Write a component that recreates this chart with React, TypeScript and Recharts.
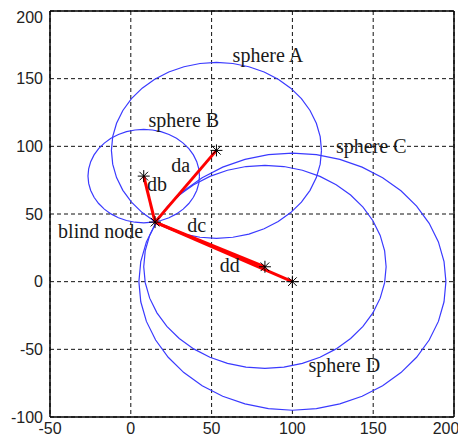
import { ScatterChart, Scatter, XAxis, YAxis, CartesianGrid, ReferenceLine } from 'recharts';

const X_TICKS = [-50, 0, 50, 100, 150, 200];
const Y_TICKS = [-100, -50, 0, 50, 100, 150, 200];

// blind node estimated position
const BLIND_NODE = { x: 15, y: 44 };

// sphere centres (anchor nodes) and radii
const SPHERE_NAMES = ['A', 'B', 'C', 'D'];
const CENTER_X = [53, 8, 83, 100];
const CENTER_Y = [97, 78, 11, 0];
const RADII = [65, 34.5, 75, 95];

// text annotations
const LABEL_TEXT = ['sphere A', 'sphere B', 'sphere C', 'sphere D', 'da', 'db', 'dc', 'dd', 'blind node'];
const LABEL_X = [63, 11, 127, 110, 25, 10, 35, 55, -45];
const LABEL_Y = [162, 114, 95, -67, 81, 67, 37, 7, 32];

const BLUE = '#3a3aff';
const RED = '#ff0000';

// outline of a circle from centre + radius (MATLAB-ish polygon)
const circlePts = (cx: number, cy: number, r: number, n = 40) => {
    const pts = [];
    for (let i = 0; i <= n; i++) {
        const a = (i / n) * Math.PI * 2;
        pts.push({ x: cx + r * Math.cos(a), y: cy + r * Math.sin(a) });
    }
    return pts;
};

const centers = SPHERE_NAMES.map((name, i) => ({ name, x: CENTER_X[i], y: CENTER_Y[i] }));
const markers = [...centers, { name: 'node', ...BLIND_NODE }];
const labels = LABEL_TEXT.map((text, i) => ({ text, x: LABEL_X[i], y: LABEL_Y[i] }));

const Nothing = () => <g />;

const Asterisk = (props: any) => {
    const { cx, cy } = props;
    const s = 6;
    const d = 4.3;
    return (
        <g stroke="#000" strokeWidth={1}>
            <line x1={cx - s} y1={cy} x2={cx + s} y2={cy} />
            <line x1={cx} y1={cy - s} x2={cx} y2={cy + s} />
            <line x1={cx - d} y1={cy - d} x2={cx + d} y2={cy + d} />
            <line x1={cx - d} y1={cy + d} x2={cx + d} y2={cy - d} />
        </g>
    );
};

const LabelText = (props: any) => {
    const { cx, cy, payload } = props;
    return (
        <text x={cx} y={cy} fill="#1a1a1a" fontSize={20} fontFamily="'Liberation Serif', 'DejaVu Serif', serif">
            {payload.text}
        </text>
    );
};

const tickStyle = { fill: '#222', fontSize: 16, fontFamily: "'Liberation Sans', Arial, sans-serif" };

export default function App() {
    return (
        <ScatterChart width={450} height={433} margin={{ top: 3, right: 4, left: 0, bottom: 0 }}>
            <CartesianGrid stroke="#111" strokeDasharray="4 3" strokeWidth={1} />
            <XAxis
                type="number"
                dataKey="x"
                domain={[-50, 200]}
                ticks={X_TICKS}
                allowDataOverflow
                height={24}
                tickSize={0}
                tickMargin={6}
                tick={tickStyle}
                axisLine={{ stroke: '#000', strokeWidth: 1.5 }}
            />
            <YAxis
                type="number"
                dataKey="y"
                domain={[-100, 200]}
                ticks={Y_TICKS}
                allowDataOverflow
                width={42}
                tickSize={0}
                tickMargin={7}
                tick={tickStyle}
                axisLine={{ stroke: '#000', strokeWidth: 1.5 }}
            />
            <ReferenceLine y={200} stroke="#000" strokeWidth={1.5} />
            <ReferenceLine x={200} stroke="#000" strokeWidth={1.5} />

            {centers.map((c, i) => (
                <Scatter
                    key={`circle-${c.name}`}
                    data={circlePts(c.x, c.y, RADII[i])}
                    line={{ stroke: BLUE, strokeWidth: 1.2 }}
                    shape={<Nothing />}
                    isAnimationActive={false}
                />
            ))}

            {centers.map((c) => (
                <Scatter
                    key={`dist-${c.name}`}
                    data={[BLIND_NODE, { x: c.x, y: c.y }]}
                    line={{ stroke: RED, strokeWidth: 3 }}
                    shape={<Nothing />}
                    isAnimationActive={false}
                />
            ))}

            <Scatter data={markers} shape={<Asterisk />} isAnimationActive={false} />
            <Scatter data={labels} shape={<LabelText />} isAnimationActive={false} />
        </ScatterChart>
    );
}
